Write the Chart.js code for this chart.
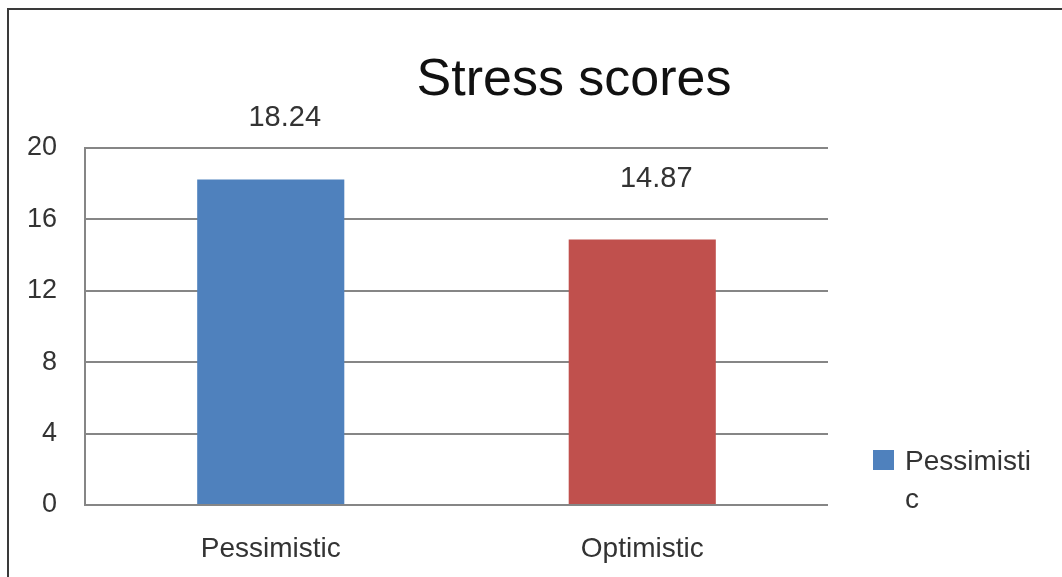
<!DOCTYPE html>
<html>
<head>
<meta charset="utf-8">
<script src="https://cdn.jsdelivr.net/npm/chart.js@4.4.0/dist/chart.umd.min.js"></script>
<style>
  html, body { margin: 0; padding: 0; background: #fff; }
  canvas { display: block; }
</style>
</head>
<body>
<canvas id="c" width="1062" height="577"></canvas>
<script>
const chartTitle = 'Stress scores';
const categories = ['Pessimistic', 'Optimistic'];
const stressScores = [18.24, 14.87];
const barColors = ['#4F81BD', '#C0504D'];
const seriesName = 'Pessimistic';
const yTicks = [0, 4, 8, 12, 16, 20];

const FONT = '"Liberation Sans", Arial, sans-serif';

const decorPlugin = {
  id: 'decor',
  beforeDraw(chart) {
    const ctx = chart.ctx;
    ctx.save();
    ctx.fillStyle = '#fff';
    ctx.fillRect(0, 0, chart.width, chart.height);
    // frame (top and left edges)
    ctx.strokeStyle = '#3a3a3a';
    ctx.lineWidth = 2;
    ctx.beginPath();
    ctx.moveTo(chart.width, 9);
    ctx.lineTo(8, 9);
    ctx.lineTo(8, chart.height);
    ctx.stroke();
    ctx.restore();
  },
  afterDraw(chart) {
    const ctx = chart.ctx;
    ctx.save();
    // title
    ctx.fillStyle = '#111';
    ctx.font = '52px ' + FONT;
    ctx.textAlign = 'center';
    ctx.textBaseline = 'alphabetic';
    ctx.fillText(chartTitle, 574, 95);
    // data labels
    const meta = chart.getDatasetMeta(0);
    ctx.fillStyle = '#333';
    ctx.font = '29px ' + FONT;
    meta.data.forEach((bar, i) => {
      const v = chart.data.datasets[0].data[i];
      ctx.fillText(v.toFixed(2), bar.x + 14, bar.y - 53);
    });
    // legend
    ctx.fillStyle = barColors[0];
    ctx.fillRect(873, 450, 21, 20);
    ctx.fillStyle = '#333';
    ctx.font = '28px ' + FONT;
    ctx.textAlign = 'left';
    const name = chart.data.datasets[0].label;
    ctx.fillText(name.slice(0, 10), 905, 470);
    ctx.fillText(name.slice(10), 905, 508);
    ctx.restore();
  }
};

new Chart(document.getElementById('c'), {
  type: 'bar',
  data: {
    labels: categories,
    datasets: [{
      label: seriesName,
      data: stressScores,
      backgroundColor: barColors,
      categoryPercentage: 1,
      barPercentage: 0.396
    }]
  },
  options: {
    responsive: false,
    animation: false,
    layout: { padding: { top: 148, right: 234, bottom: 0, left: 0 } },
    plugins: {
      legend: { display: false },
      title: { display: false },
      tooltip: { enabled: false }
    },
    scales: {
      x: {
        grid: { display: false },
        border: { display: false },
        ticks: { color: '#333', font: { family: FONT, size: 28 }, padding: 19 },
        afterFit(scale) { scale.height = 72; }
      },
      y: {
        min: 0,
        max: 20,
        afterBuildTicks(scale) { scale.ticks = yTicks.map(v => ({ value: v })); },
        grid: { color: '#868686', lineWidth: 2, drawTicks: false },
        border: { display: true, color: '#868686', width: 2 },
        ticks: { color: '#333', font: { family: FONT, size: 27 }, padding: 28 },
        afterFit(scale) { scale.width = 85; }
      }
    }
  },
  plugins: [decorPlugin]
});
</script>
</body>
</html>
